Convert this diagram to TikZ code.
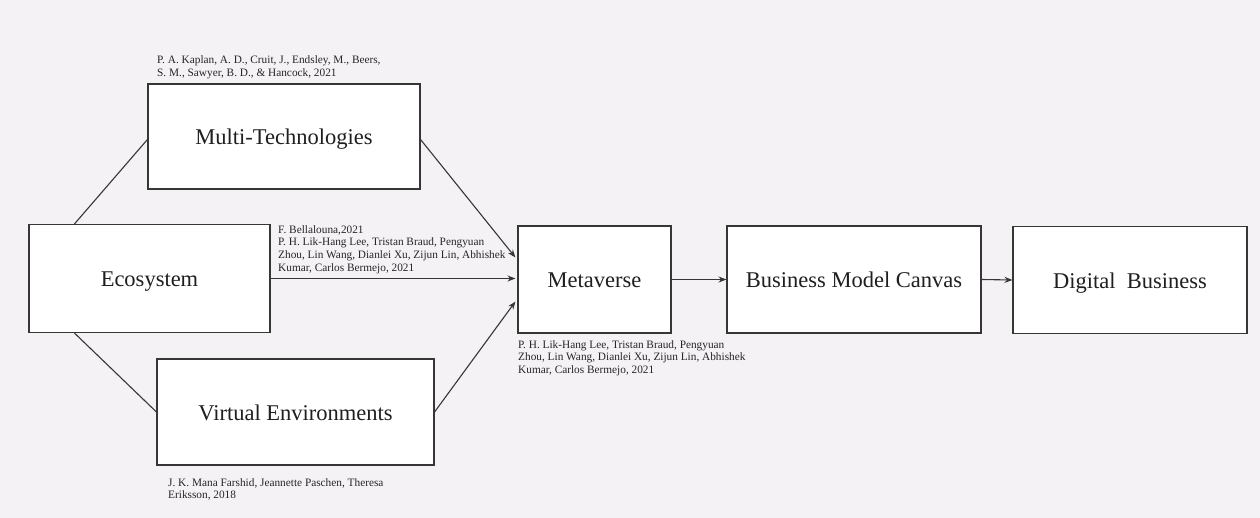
\documentclass[tikz,border=0pt]{standalone}
\usepackage{fontspec}
\setmainfont{Liberation Serif}
\usetikzlibrary{calc,arrows.meta}
\definecolor{paper}{HTML}{F4F2F4}
\definecolor{ink}{HTML}{363636}
\begin{document}
\begin{tikzpicture}[x=1pt,y=-1pt,
  box/.style={draw=ink,fill=white,line width=1.1pt,inner sep=0pt,
    text height=18pt,text depth=1pt,
    font=\fontsize{22.5}{26}\selectfont,text=black!88},
  link/.style={draw=ink,line width=1.1pt},
  arr/.style={link,-{Stealth[length=8pt,width=6pt]}},
  cite/.style={anchor=north west,inner sep=0pt,align=left,text=black!85,
    font=\fontsize{11.3}{12.7}\selectfont}]
  % page
  \fill[paper] (0,0) rectangle (1260,518);
  \useasboundingbox (0,0) rectangle (1260,518);

  % boxes
  \node[box,minimum width=272pt,minimum height=105pt] (multi) at (284,136.5) {Multi-Technologies};
  \node[box,minimum width=241pt,minimum height=108pt] (eco) at (149.5,278.5) {Ecosystem};
  \node[box,minimum width=277pt,minimum height=106pt] (virt) at (295.5,412) {Virtual Environments};
  \node[box,minimum width=153pt,minimum height=107pt] (meta) at (594.5,279.5) {Metaverse};
  \node[box,minimum width=254pt,minimum height=107pt] (bmc) at (854,279.5) {Business Model Canvas};
  \node[box,minimum width=234pt,minimum height=107pt] (dig) at (1130,280) {Digital\ \ Business};

  % attachment points
  \coordinate (ecoTop) at ($(eco.north west)+(46,0)$);
  \coordinate (ecoBot) at ($(eco.south west)+(46,0)$);
  \coordinate (metaUp) at ($(meta.west)+(-2,-22)$);
  \coordinate (metaMid) at ($(eco.east -| meta.west)+(-2,0)$);
  \coordinate (metaDn) at ($(meta.west)+(-2,22)$);

  % connectors
  \draw[link] (ecoTop) -- ($(multi.west)+(0,3)$);
  \draw[link] (ecoBot) -- (virt.west);
  \draw[arr] ($(multi.east)+(0,3)$) -- (metaUp);
  \draw[arr] (eco.east) -- (metaMid);
  \draw[arr] (virt.east) -- (metaDn);
  \draw[arr] (meta.east) -- (bmc.west);
  \draw[arr] (bmc.east) -- (dig.west);

  % references
  \node[cite] (c1) at (157,55.5) {P. A. Kaplan, A. D., Cruit, J., Endsley, M., Beers,\\S. M., Sawyer, B. D., \& Hancock, 2021};
  \node[cite] (c2) at (278,225) {F. Bellalouna,2021\\P. H. Lik-Hang Lee, Tristan Braud, Pengyuan\\Zhou, Lin Wang, Dianlei Xu, Zijun Lin, Abhishek\\Kumar, Carlos Bermejo, 2021};
  \node[cite] (c3) at (518,340) {P. H. Lik-Hang Lee, Tristan Braud, Pengyuan\\Zhou, Lin Wang, Dianlei Xu, Zijun Lin, Abhishek\\Kumar, Carlos Bermejo, 2021};
  \node[cite] (c4) at (168,478) {J. K. Mana Farshid, Jeannette Paschen, Theresa\\Eriksson, 2018};
\end{tikzpicture}
\end{document}
